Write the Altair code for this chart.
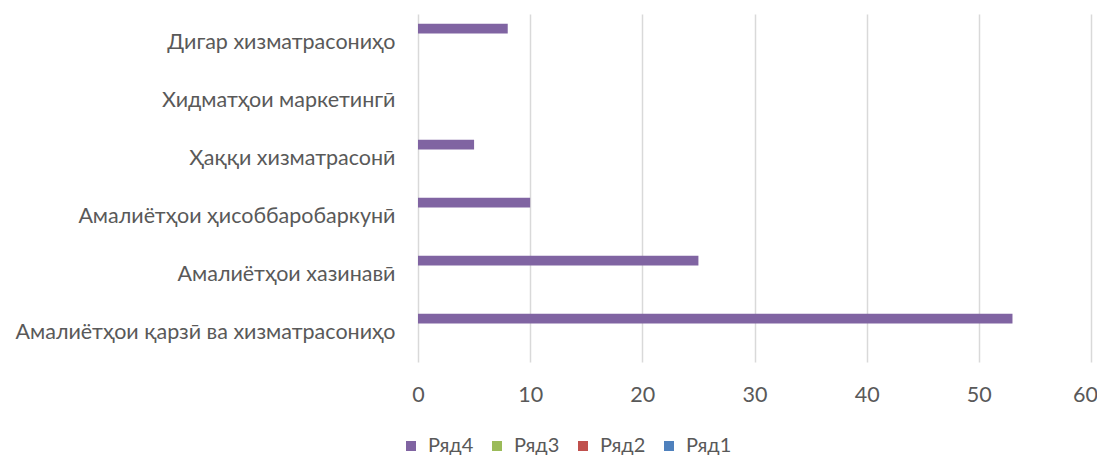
import altair as alt
import pandas as pd

categories = [
    "Дигар хизматрасониҳо",
    "Хидматҳои маркетингӣ",
    "Ҳаққи хизматрасонӣ",
    "Амалиётҳои ҳисоббаробаркунӣ",
    "Амалиётҳои хазинавӣ",
    "Амалиётҳои қарзӣ ва хизматрасониҳо",
]
series_names = ["Ряд4", "Ряд3", "Ряд2", "Ряд1"]
series_colors = ["#8064A2", "#9BBB59", "#C0504D", "#4F81BD"]

ryad4 = [8, 0, 5, 10, 25, 53]
ryad3 = [0, 0, 0, 0, 0, 0]
ryad2 = [0, 0, 0, 0, 0, 0]
ryad1 = [0, 0, 0, 0, 0, 0]
x_ticks = [0, 10, 20, 30, 40, 50, 60]

rows = []
for name, vals in zip(series_names, [ryad4, ryad3, ryad2, ryad1]):
    for c, v in zip(categories, vals):
        rows.append({"cat": c, "series": name, "value": v})
df = pd.DataFrame(rows)

FONT = "Lato"
TXT = "#595959"

chart = (
    alt.Chart(df)
    .mark_bar()
    .encode(
        y=alt.Y(
            "cat:N",
            sort=categories,
            scale=alt.Scale(paddingInner=0.34, paddingOuter=0.17),
            axis=alt.Axis(
                title=None, domain=False, ticks=False, labelFontSize=21.5,
                labelColor=TXT, labelFont=FONT, labelPadding=23, labelLimit=600,
            ),
        ),
        yOffset=alt.YOffset(
            "series:N", sort=series_names,
            scale=alt.Scale(paddingInner=0, paddingOuter=0),
        ),
        x=alt.X(
            "value:Q",
            scale=alt.Scale(domain=[0, 60], nice=False),
            axis=alt.Axis(
                title=None, values=x_ticks, grid=True, gridColor="#d9d9d9",
                gridWidth=1.5, domain=False, ticks=False, labelFontSize=21.5,
                labelColor=TXT, labelFont=FONT, labelPadding=22, labelFlush=False,
                labelOffset={"condition": {"test": "datum.value == 60", "value": -6}, "value": 0},
            ),
        ),
        color=alt.Color(
            "series:N",
            scale=alt.Scale(domain=series_names, range=series_colors),
            legend=alt.Legend(
                title=None, orient="none", legendX=-17, legendY=422,
                direction="horizontal", symbolType="square", symbolSize=100,
                symbolStrokeWidth=0, labelFontSize=20, labelFont=FONT,
                labelColor=TXT, columnPadding=13, labelOffset=7,
            ),
        ),
    )
    .properties(
        width=673,
        height=348,
        autosize=alt.AutoSizeParams(type="none"),
        padding={"left": 410, "top": 6, "right": 6, "bottom": 93},
    )
    .configure_view(stroke=None)
)

chart.save("out.html", embed_options={"renderer": "svg", "actions": False})
